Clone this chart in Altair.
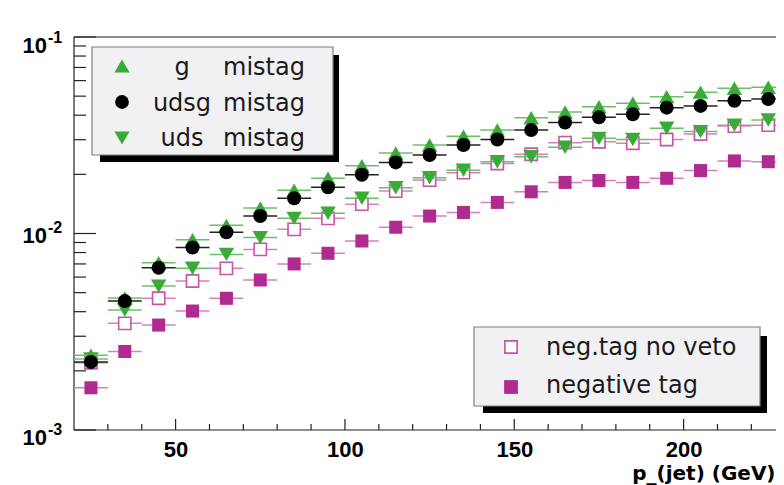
import altair as alt
import pandas as pd

# ---------------- data ----------------
pt_centers = [25, 35, 45, 55, 65, 75, 85, 95, 105, 115, 125,
              135, 145, 155, 165, 175, 185, 195, 205, 215, 225]
bin_half = 5

g_mistag = [0.0024, 0.0047, 0.0071, 0.0093, 0.0110, 0.0135, 0.0166, 0.0191, 0.0221, 0.0257, 0.0282,
            0.0313, 0.0336, 0.0388, 0.0415, 0.0442, 0.0460, 0.0497, 0.0524, 0.0548, 0.0555]
udsg_mistag = [0.00222, 0.00453, 0.0067, 0.00848, 0.01014, 0.01227, 0.0151, 0.0172, 0.0199, 0.0230, 0.0251,
               0.0282, 0.0301, 0.0336, 0.0367, 0.0390, 0.0404, 0.0437, 0.0446, 0.0474, 0.0483]
uds_mistag = [0.0023, 0.00408, 0.0054, 0.00665, 0.00783, 0.00953, 0.01194, 0.01268, 0.0151, 0.0171, 0.0192,
              0.0210, 0.0232, 0.0246, 0.0275, 0.0305, 0.0301, 0.0343, 0.0330, 0.0356, 0.0378]
neg_no_veto = [0.0022, 0.00349, 0.00468, 0.00573, 0.00665, 0.0083, 0.0105, 0.01194, 0.0141, 0.01644, 0.0187,
               0.0204, 0.0227, 0.0253, 0.0290, 0.0293, 0.0288, 0.0301, 0.0321, 0.0352, 0.0356]
negative_tag = [0.00164, 0.00251, 0.00342, 0.00403, 0.00468, 0.0058, 0.0070, 0.00793, 0.00916, 0.01076, 0.01227,
                0.0128, 0.0144, 0.0163, 0.0182, 0.0186, 0.0182, 0.0191, 0.0209, 0.0234, 0.0232]

x_label_values = [50, 100, 150, 200]
x_minor_ticks = [30, 40, 60, 70, 80, 90, 110, 120, 130, 140, 160, 170, 180, 190, 210, 220]
y_label_values = [0.1, 0.01, 0.001]
y_label_exponents = ["-1", "-2", "-3"]
y_minor_ticks = [0.002, 0.003, 0.004, 0.005, 0.006, 0.007, 0.008, 0.009,
                 0.02, 0.03, 0.04, 0.05, 0.06, 0.07, 0.08, 0.09]

legend1_prefix = ["g", "udsg", "uds"]
legend1_suffix = "mistag"
legend2_labels = ["neg.tag no veto", "negative tag"]
x_title = "p_(jet) (GeV)"

# ---------------- styling ----------------
W, H = 702, 393
GREEN = "#3aab36"
GREEN_ERR = "#6cc068"
MAGENTA = "#b02a90"
MAGENTA_ERR = "#d580c2"
OPEN_SQ = "#c555ab"
BLACK = "#000000"
FONT = "DejaVu Sans"
NUMFONT = "Liberation Sans"
FRAME = "#222"

xscale = alt.Scale(domain=[20, 227.28], nice=False, zero=False)
yscale = alt.Scale(type="log", domain=[0.001, 0.1], nice=False)

xaxis = alt.Axis(values=x_label_values, ticks=False, domain=False, grid=False,
                 labelFont=NUMFONT, labelFontWeight="bold", labelFontSize=22, labelColor="black",
                 labelPadding=9, labelFlush=False, labelOverlap=False,
                 title=x_title, titleFont=FONT, titleFontWeight="bold", titleFontSize=20,
                 titleColor="black", titleAlign="right", titleAnchor="end", titleBaseline="alphabetic",
                 titleX=W - 1, titleY=49)
yaxis = alt.Axis(values=y_label_values, ticks=False, domain=False, grid=False, labels=False, title=None)


def X(field):
    return alt.X(field, type="quantitative", scale=xscale, axis=xaxis)


def Y(field):
    return alt.Y(field, type="quantitative", scale=yscale, axis=yaxis)


def series(vals, shape, fill, stroke, err_color, size, stroke_width=0.0):
    df = pd.DataFrame({"pt": pt_centers,
                       "lo": [p - bin_half for p in pt_centers],
                       "hi": [p + bin_half for p in pt_centers],
                       "eff": vals})
    base = alt.Chart(df)
    err = base.mark_rule(color=err_color, strokeWidth=1.5).encode(x=X("lo"), x2="hi", y=Y("eff"))
    pts = base.mark_point(shape=shape, filled=True, fill=fill, stroke=stroke, strokeWidth=stroke_width,
                          size=size, opacity=1).encode(x=X("pt"), y=Y("eff"))
    return [err, pts]


one = pd.DataFrame({"k": [0]})
layers = []

# frame (left, top, bottom; the right side is cut in the reference)
layers.append(alt.Chart(one).mark_rule(color=FRAME, strokeWidth=1.2)
              .encode(x=alt.value(0), x2=alt.value(W), y=alt.value(0)))
layers.append(alt.Chart(one).mark_rule(color=FRAME, strokeWidth=1.2)
              .encode(x=alt.value(0), x2=alt.value(W), y=alt.value(H)))
layers.append(alt.Chart(one).mark_rule(color=FRAME, strokeWidth=1.2)
              .encode(x=alt.value(0), y=alt.value(0), y2=alt.value(H)))

# custom inside ticks (ROOT style)
layers.append(alt.Chart(pd.DataFrame({"t": x_minor_ticks})).mark_rule(color=FRAME, strokeWidth=1.2)
              .encode(x=X("t"), y=alt.value(H), y2=alt.value(H - 6)))
layers.append(alt.Chart(pd.DataFrame({"t": x_label_values})).mark_rule(color=FRAME, strokeWidth=1.2)
              .encode(x=X("t"), y=alt.value(H), y2=alt.value(H - 11)))
layers.append(alt.Chart(pd.DataFrame({"t": y_minor_ticks})).mark_rule(color=FRAME, strokeWidth=1.2)
              .encode(y=Y("t"), x=alt.value(0), x2=alt.value(12)))
layers.append(alt.Chart(pd.DataFrame({"t": y_label_values})).mark_rule(color=FRAME, strokeWidth=1.2)
              .encode(y=Y("t"), x=alt.value(0), x2=alt.value(22)))

# y labels as 10 with a superscript exponent
label_shift = [16, 9, 15]
for val, expo, dy in zip(y_label_values, y_label_exponents, label_shift):
    d = pd.DataFrame({"t": [val]})
    layers.append(alt.Chart(d).mark_text(text="10", align="right", baseline="alphabetic", font=NUMFONT,
                                         fontWeight="bold", fontSize=22, color="black", dy=dy)
                  .encode(y=Y("t"), x=alt.value(-27)))
    layers.append(alt.Chart(d).mark_text(text=expo, align="left", baseline="alphabetic", font=NUMFONT,
                                         fontWeight="bold", fontSize=16, color="black", dy=dy - 10)
                  .encode(y=Y("t"), x=alt.value(-26)))

# data series (drawing order as in the reference)
layers += series(negative_tag, "square", MAGENTA, MAGENTA, MAGENTA_ERR, 170)
layers += series(neg_no_veto, "square", "white", OPEN_SQ, MAGENTA_ERR, 150, 1.6)
layers += series(uds_mistag, "triangle-down", GREEN, GREEN, GREEN_ERR, 240)
layers += series(g_mistag, "triangle-up", GREEN, GREEN, GREEN_ERR, 240)
layers += series(udsg_mistag, "circle", BLACK, BLACK, "#222222", 196)


def box(x1, y1, x2, y2, fill, stroke=None):
    kw = dict(fill=fill)
    if stroke:
        kw.update(stroke=stroke, strokeWidth=1.2)
    return alt.Chart(one).mark_rect(**kw).encode(
        x=alt.value(x1), x2=alt.value(x2), y=alt.value(y1), y2=alt.value(y2))


def sym(x, y, shape, fill, stroke, size, sw=0.0):
    return alt.Chart(one).mark_point(shape=shape, filled=True, fill=fill, stroke=stroke, strokeWidth=sw,
                                     size=size, opacity=1).encode(x=alt.value(x), y=alt.value(y))


def txt(x, y, s, align):
    return alt.Chart(one).mark_text(text=s, align=align, baseline="alphabetic", font=FONT,
                                    fontSize=24, color="#1a1a1a").encode(x=alt.value(x), y=alt.value(y))


# legend 1 (upper left)
layers.append(box(26, 18, 265, 125, "black"))
layers.append(box(18, 10, 259, 118, "#f1f1f3", "#808080"))
leg1_rows = [(29, 38), (65, 74), (101, 109)]
leg1_syms = [("triangle-up", GREEN), ("circle", BLACK), ("triangle-down", GREEN)]
for (cy, by), (shape, col), prefix in zip(leg1_rows, leg1_syms, legend1_prefix):
    layers.append(sym(48, cy, shape, col, col, 230 if shape != "circle" else 190))
    layers.append(txt(108, by, prefix, "center"))
    layers.append(txt(149, by, legend1_suffix, "left"))

# legend 2 (lower right)
layers.append(box(409, 299, 693, 376, "black"))
layers.append(box(400, 290, 686, 369, "#f1f1f3", "#808080"))
layers.append(sym(437, 310, "square", "white", OPEN_SQ, 150, 1.6))
layers.append(txt(472, 318, legend2_labels[0], "left"))
layers.append(sym(437, 350, "square", MAGENTA, MAGENTA, 190))
layers.append(txt(472, 356, legend2_labels[1], "left"))

chart = alt.layer(*layers).properties(
    width=W, height=H,
    autosize=alt.AutoSizeParams(type="none"),
    padding={"left": 66, "top": 29, "right": 0, "bottom": 55},
    background="white",
).configure_view(strokeWidth=0)

chart.save("out.html", embed_options={"renderer": "svg", "actions": False})
